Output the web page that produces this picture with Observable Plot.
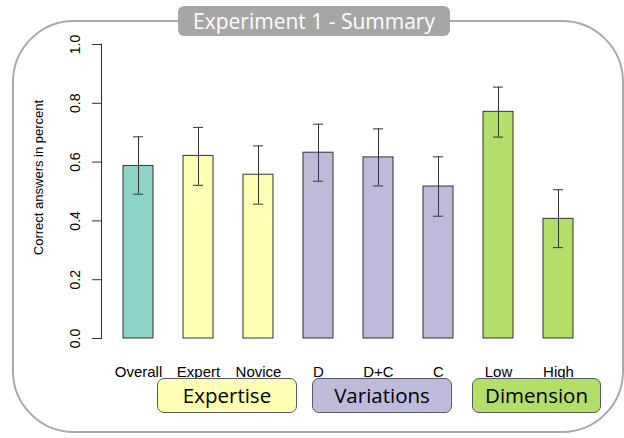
<!DOCTYPE html>
<html>
<head>
<meta charset="utf-8">
<script src="https://cdn.jsdelivr.net/npm/d3@7"></script>
<script src="https://cdn.jsdelivr.net/npm/@observablehq/plot@0.6"></script>
<style>
  html, body { margin: 0; padding: 0; background: #fff; }
  #wrap { position: relative; width: 624px; height: 438px; overflow: hidden; }
  #wrap svg { position: absolute; left: 0; top: 0; background: transparent; }
  .border { position: absolute; left: 12px; top: 20px; width: 608px; height: 409px;
    border: 2px solid #a9a9a9; border-radius: 62px; box-sizing: content-box; }
  .title { position: absolute; left: 178px; top: 6px; width: 272px; height: 30px;
    background: #a6a6a6; border-radius: 6px; color: #fff; font-family: "Open Sans", Lato, sans-serif;
    font-size: 21px; line-height: 30px; text-align: center; }
  .grp { position: absolute; top: 378px; height: 33px; border: 1px solid #5a5a5a; border-radius: 7px;
    font-family: "Open Sans", Lato, sans-serif; font-size: 20.5px; line-height: 33px; text-align: center; color: #000; }
</style>
</head>
<body>
<div id="wrap"></div>
<script>
// ---- data ----
const categories = ["Overall", "Expert", "Novice", "D", "D+C", "C", "Low", "High"];
const groupOf    = ["Overall", "Expertise", "Expertise", "Variations", "Variations", "Variations", "Dimension", "Dimension"];
const values     = [0.587, 0.621, 0.557, 0.632, 0.616, 0.517, 0.771, 0.407];
const errLow     = [0.491, 0.521, 0.457, 0.535, 0.519, 0.416, 0.685, 0.309];
const errHigh    = [0.686, 0.718, 0.655, 0.729, 0.713, 0.618, 0.855, 0.506];
const yTicks     = [0, 0.2, 0.4, 0.6, 0.8, 1.0];
const yDomain    = [0, 1];
const groupNames = ["Overall", "Expertise", "Variations", "Dimension"];
const groupColors = ["#8dd3c7", "#ffffb3", "#bebada", "#b3de69"];
const yLabel = "Correct answers in percent";
const titleText = "Experiment 1 - Summary";
const boxGroups = ["Expertise", "Variations", "Dimension"];

const data = categories.map((c, i) => ({
  name: c, group: groupOf[i], value: values[i], lo: errLow[i], hi: errHigh[i]
}));

// R-style y axis line spanning the y domain, drawn with the y scale
function yAxisLine(index, scales, values, dims) {
  const ns = "http://www.w3.org/2000/svg";
  const line = document.createElementNS(ns, "line");
  line.setAttribute("x1", dims.marginLeft - 0.5);
  line.setAttribute("x2", dims.marginLeft - 0.5);
  line.setAttribute("y1", scales.y(yDomain[0]) + 0.5);
  line.setAttribute("y2", scales.y(yDomain[1]) - 0.5);
  line.setAttribute("stroke", "#333");
  line.setAttribute("stroke-width", 1);
  return line;
}

const chart = Plot.plot({
  width: 624,
  height: 438,
  marginTop: 44,
  marginBottom: 100,
  marginLeft: 102,
  marginRight: 31,
  style: { fontFamily: "'Liberation Sans', Arial, sans-serif", background: "transparent" },
  x: { domain: categories, paddingInner: 0.5, paddingOuter: 0.31, label: null },
  y: { domain: yDomain, label: null },
  color: { domain: groupNames, range: groupColors },
  marks: [
    Plot.axisY({ ticks: yTicks, tickSize: 10, tickFormat: () => "", stroke: "#333" }),
    yAxisLine,
    Plot.text(yTicks, { y: d => d, text: d => d.toFixed(1), frameAnchor: "left", textAnchor: "middle", dx: -27, rotate: -90, fontSize: 14, fill: "#000" }),
    Plot.text([yLabel], { text: d => d, frameAnchor: "left", textAnchor: "middle", dx: -64, dy: -14, rotate: -90, fontSize: 13, fill: "#000" }),
    Plot.axisX({ tickSize: 0, tickPadding: 28, fontSize: 15, fill: "#000" }),
    Plot.barY(data, { x: "name", y: "value", fill: "group", stroke: "#333", strokeWidth: 1 }),
    Plot.ruleX(data, { x: "name", y1: "lo", y2: "hi", stroke: "#333", strokeWidth: 1 }),
    Plot.tickY(data, { x: "name", y: "hi", stroke: "#333", insetLeft: 10, insetRight: 10 }),
    Plot.tickY(data, { x: "name", y: "lo", stroke: "#333", insetLeft: 10, insetRight: 10 })
  ]
});

const wrap = document.getElementById("wrap");
wrap.appendChild(chart);

const border = document.createElement("div");
border.className = "border";
wrap.appendChild(border);

const title = document.createElement("div");
title.className = "title";
title.textContent = titleText;
wrap.appendChild(title);

// group boxes (layout placement)
const boxLayout = { Expertise: [157, 138], Variations: [312, 138], Dimension: [472, 127] };
boxGroups.forEach(g => {
  const d = document.createElement("div");
  d.className = "grp";
  d.textContent = g;
  d.style.left = boxLayout[g][0] + "px";
  d.style.width = boxLayout[g][1] + "px";
  d.style.background = groupColors[groupNames.indexOf(g)];
  wrap.appendChild(d);
});
</script>
</body>
</html>
